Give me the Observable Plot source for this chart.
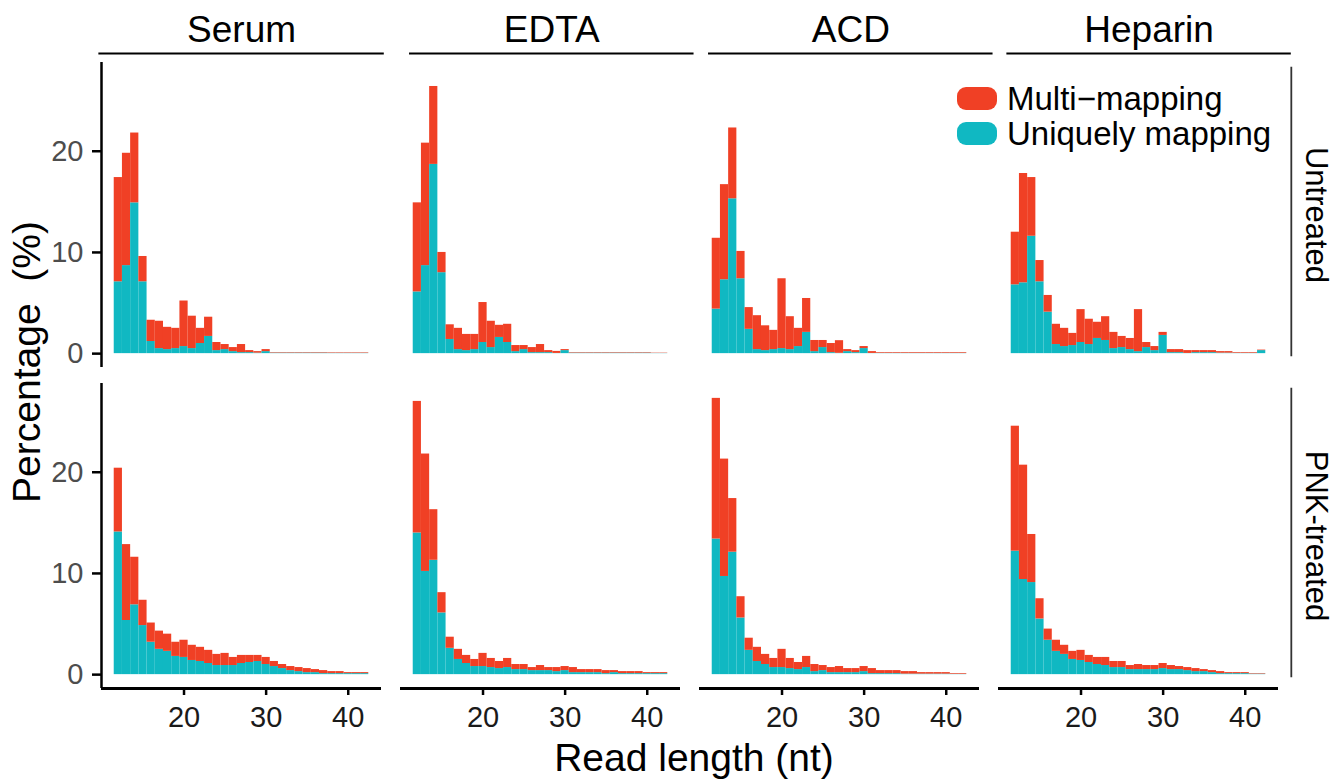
<!DOCTYPE html>
<html>
<head>
<meta charset="utf-8">
<script src="https://cdn.jsdelivr.net/npm/d3@7"></script>
<script src="https://cdn.jsdelivr.net/npm/@observablehq/plot@0.6"></script>
<style>
  html, body { margin: 0; padding: 0; background: #fff; }
  #wrap { position: relative; width: 1333px; height: 780px; font-family: "Liberation Sans", Arial, Helvetica, sans-serif; }
  #chart { position: absolute; left: 0; top: 0; }
  .legend { position: absolute; left: 957px; top: 81px; }
  .item { display: flex; align-items: center; height: 35px; font-size: 33px; color: #000; white-space: nowrap; }
  .sw { width: 40px; height: 23px; border-radius: 9px; margin-right: 10px; flex: none; }
  #ylab { position: absolute; left: 27px; top: 362px; transform: translate(-50%, -50%) rotate(-90deg); font-size: 39px; white-space: pre; color: #000; }
  #xlab { position: absolute; left: 694px; top: 758px; transform: translate(-50%, -50%); font-size: 39px; white-space: pre; color: #000; }
</style>
</head>
<body>
<div id="wrap">
  <div id="chart"></div>
  <div class="legend" id="legend"></div>
  <div id="ylab"></div>
  <div id="xlab"></div>
</div>
<script>
// ---- categories ----
const samples = ["Serum", "EDTA", "ACD", "Heparin"];
const treatments = ["Untreated", "PNK-treated"];
const lengths = [12, 13, 14, 15, 16, 17, 18, 19, 20, 21, 22, 23, 24, 25, 26, 27, 28, 29, 30, 31, 32, 33, 34, 35, 36, 37, 38, 39, 40, 41, 42];
const mappingTypes = ["Uniquely mapping", "Multi\u2212mapping"];
const legendOrder = ["Multi\u2212mapping", "Uniquely mapping"];
const mappingColors = ["#10B8C2", "#F04025"];
const xTicks = [20, 30, 40];
const yTicks = [0, 10, 20];
const xTitle = "Read length (nt)";
const yTitle = "Percentage  (%)";

// ---- series values (percent), read length 12..42 ----
// Untreated
const serumUntreatedUnique = [7.1, 8.7, 14.9, 7.1, 1.2, 0.5, 0.4, 0.5, 0.7, 0.5, 1.0, 1.7, 0.3, 0.4, 0.2, 0.1, 0.1, 0.05, 0.2, 0.05, 0.05, 0.05, 0.05, 0.05, 0.05, 0.05, 0.03, 0.03, 0.03, 0.03, 0.03];
const serumUntreatedMulti  = [10.3, 11.1, 6.9, 2.5, 2.1, 2.7, 2.2, 2.0, 4.5, 3.2, 1.5, 1.9, 0.8, 0.5, 0.4, 0.8, 0.2, 0.15, 0.2, 0.05, 0.05, 0.05, 0.05, 0.05, 0.05, 0.05, 0.05, 0.05, 0.05, 0.05, 0.05];
const edtaUntreatedUnique  = [6.1, 8.7, 18.7, 8.0, 1.4, 0.4, 0.3, 0.4, 1.1, 0.6, 1.6, 1.1, 0.2, 0.4, 0.1, 0.1, 0.1, 0.02, 0.3, 0.05, 0.05, 0.05, 0.05, 0.05, 0.05, 0.05, 0.05, 0.05, 0.05, 0.02, 0.02];
const edtaUntreatedMulti   = [8.8, 12.1, 7.7, 2.0, 1.45, 2.1, 1.6, 1.5, 3.95, 2.6, 1.2, 1.8, 0.6, 0.4, 0.5, 0.8, 0.2, 0.2, 0.1, 0.05, 0.05, 0.05, 0.05, 0.05, 0.05, 0.05, 0.05, 0.05, 0.05, 0.03, 0.03];
const acdUntreatedUnique   = [4.4, 7.3, 15.3, 7.4, 2.4, 0.4, 0.3, 0.4, 0.5, 0.4, 0.7, 2.1, 0.2, 0.6, 0.1, 0.03, 0.2, 0.1, 0.5, 0.02, 0.03, 0.03, 0.03, 0.03, 0.03, 0.03, 0.03, 0.03, 0.03, 0.03, 0.03];
const acdUntreatedMulti    = [7.0, 9.4, 7.0, 2.7, 2.15, 3.35, 2.45, 1.9, 6.9, 3.25, 1.8, 3.35, 1.1, 0.7, 0.9, 1.25, 0.2, 0.2, 0.2, 0.18, 0.07, 0.07, 0.07, 0.07, 0.07, 0.07, 0.07, 0.07, 0.07, 0.07, 0.07];
const heparinUntreatedUnique = [6.8, 7.0, 11.6, 7.1, 4.1, 0.9, 0.7, 0.8, 1.1, 0.9, 1.5, 1.3, 0.5, 0.6, 0.4, 0.2, 0.6, 0.3, 1.8, 0.1, 0.1, 0.02, 0.1, 0.1, 0.1, 0.05, 0.05, 0.03, 0.03, 0.03, 0.3];
const heparinUntreatedMulti  = [5.2, 10.8, 5.8, 2.1, 1.65, 2.0, 1.8, 1.2, 3.25, 2.5, 1.6, 2.35, 1.6, 1.1, 1.1, 4.15, 0.5, 0.4, 0.3, 0.3, 0.3, 0.28, 0.2, 0.2, 0.2, 0.15, 0.15, 0.07, 0.07, 0.07, 0.05];
// PNK-treated
const serumPnkUnique   = [14.1, 5.35, 6.9, 4.85, 3.2, 2.5, 2.3, 1.8, 1.7, 1.4, 1.3, 1.1, 0.9, 0.9, 0.9, 1.1, 1.2, 1.3, 1.0, 0.8, 0.6, 0.4, 0.3, 0.2, 0.2, 0.1, 0.1, 0.1, 0.1, 0.1, 0.1];
const serumPnkMulti    = [6.3, 7.5, 4.7, 2.5, 1.9, 1.8, 1.7, 1.4, 1.7, 1.5, 1.4, 1.3, 1.1, 1.2, 0.8, 0.8, 0.7, 0.6, 0.7, 0.5, 0.4, 0.4, 0.4, 0.4, 0.3, 0.3, 0.2, 0.2, 0.1, 0.1, 0.1];
const edtaPnkUnique    = [14.0, 10.2, 11.3, 6.1, 2.6, 1.5, 1.1, 0.8, 0.8, 0.7, 0.6, 0.7, 0.5, 0.5, 0.4, 0.4, 0.4, 0.3, 0.4, 0.2, 0.2, 0.2, 0.2, 0.1, 0.2, 0.1, 0.1, 0.1, 0.1, 0.1, 0.1];
const edtaPnkMulti     = [13.0, 11.6, 5.0, 2.0, 1.1, 1.0, 0.8, 0.7, 1.3, 0.9, 0.7, 0.9, 0.5, 0.5, 0.3, 0.5, 0.3, 0.4, 0.4, 0.5, 0.3, 0.3, 0.3, 0.3, 0.2, 0.2, 0.2, 0.2, 0.1, 0.1, 0.1];
const acdPnkUnique     = [13.4, 9.7, 12.1, 5.6, 2.4, 1.3, 1.0, 0.7, 0.7, 0.6, 0.5, 0.7, 0.3, 0.4, 0.2, 0.2, 0.2, 0.2, 0.3, 0.1, 0.1, 0.1, 0.1, 0.05, 0.05, 0.05, 0.05, 0.05, 0.05, 0.03, 0.03];
const acdPnkMulti      = [13.9, 11.6, 5.3, 2.1, 1.2, 1.4, 1.0, 0.9, 1.8, 1.0, 0.7, 1.1, 0.7, 0.5, 0.5, 0.6, 0.4, 0.4, 0.5, 0.5, 0.3, 0.3, 0.3, 0.25, 0.25, 0.15, 0.15, 0.15, 0.15, 0.07, 0.07];
const heparinPnkUnique = [12.2, 9.4, 9.1, 5.5, 3.4, 2.3, 2.0, 1.5, 1.4, 1.2, 1.0, 0.9, 0.7, 0.7, 0.5, 0.5, 0.5, 0.5, 0.6, 0.5, 0.5, 0.4, 0.3, 0.3, 0.2, 0.1, 0.1, 0.1, 0.1, 0.05, 0.05];
const heparinPnkMulti  = [12.35, 11.3, 4.75, 2.0, 1.1, 1.1, 0.9, 0.8, 1.0, 0.7, 0.7, 0.8, 0.6, 0.6, 0.4, 0.5, 0.4, 0.4, 0.5, 0.4, 0.3, 0.3, 0.3, 0.2, 0.2, 0.2, 0.1, 0.1, 0.1, 0.05, 0.05];

const panels = [
  ["Serum", "Untreated", serumUntreatedUnique, serumUntreatedMulti],
  ["EDTA", "Untreated", edtaUntreatedUnique, edtaUntreatedMulti],
  ["ACD", "Untreated", acdUntreatedUnique, acdUntreatedMulti],
  ["Heparin", "Untreated", heparinUntreatedUnique, heparinUntreatedMulti],
  ["Serum", "PNK-treated", serumPnkUnique, serumPnkMulti],
  ["EDTA", "PNK-treated", edtaPnkUnique, edtaPnkMulti],
  ["ACD", "PNK-treated", acdPnkUnique, acdPnkMulti],
  ["Heparin", "PNK-treated", heparinPnkUnique, heparinPnkMulti]
];

// Stacked table: uniquely mapping at bottom, multi-mapping on top
const table = [];
for (const [sample, treat, uniq, multi] of panels) {
  lengths.forEach((len, i) => {
    table.push({sample, treat, len, type: mappingTypes[0], y1: 0, y2: uniq[i]});
    table.push({sample, treat, len, type: mappingTypes[1], y1: uniq[i], y2: uniq[i] + multi[i]});
  });
}

// ---- layout ----
const xDomain = [9.95, 44.05];
const yDomain = [-1.37, 28.77];
const stripY = 29.66;
const stripSpan = {Serum: [9.63, 44.39], EDTA: [11.05, 45.7], ACD: [11.05, 45.7], Heparin: [10.97, 45.61]};
const rowStripX = 45.61;
const rowTextX = 48.55;

const font = '"Liberation Sans", Arial, Helvetica, sans-serif';

const chart = Plot.plot({
  width: 1333,
  height: 780,
  marginLeft: 100,
  marginRight: 55,
  marginTop: 62,
  marginBottom: 92,
  style: {fontFamily: font, background: "white", color: "black"},
  x: {domain: xDomain},
  y: {domain: yDomain},
  fx: {domain: samples, paddingInner: 0.064, paddingOuter: 0, axis: null},
  fy: {domain: treatments, paddingInner: 0.051, paddingOuter: 0, axis: null},
  color: {domain: mappingTypes, range: mappingColors},
  marks: [
    Plot.rect(table, {
      x1: d => d.len - 0.5, x2: d => d.len + 0.5,
      y1: "y1", y2: "y2",
      fill: "type", fx: "sample", fy: "treat"
    }),
    // y axis (left column only)
    Plot.axisY({ticks: yTicks, tickSize: 9, tickPadding: 9, fontSize: 29, fill: "#4d4d4d", stroke: "black", strokeWidth: 2.5, label: null}),
    Plot.ruleX(treatments, {x: xDomain[0], fx: () => "Serum", fy: d => d, strokeWidth: 2.5, stroke: "black"}),
    // x axis (bottom row only)
    Plot.axisX({ticks: xTicks, tickSize: 7, tickPadding: 11, fontSize: 29, fill: "#1a1a1a", stroke: "black", strokeWidth: 2.5, label: null}),
    Plot.ruleY(samples, {y: yDomain[0], fx: d => d, fy: () => "PNK-treated", strokeWidth: 3, stroke: "black"}),
    // column strips
    Plot.ruleY(samples, {y: stripY, x1: d => stripSpan[d][0], x2: d => stripSpan[d][1], fx: d => d, fy: () => "Untreated", strokeWidth: 2, stroke: "black"}),
    Plot.text(samples, {text: d => d, x: d => (stripSpan[d][0] + stripSpan[d][1]) / 2, y: stripY, dy: -11, lineAnchor: "bottom", fontSize: 37, fill: "black", fx: d => d, fy: () => "Untreated"}),
    // row strips
    Plot.ruleX(treatments, {x: rowStripX, y1: 28.3, y2: -0.3, fx: () => "Heparin", fy: d => d, strokeWidth: 1.8, stroke: "#333"}),
    Plot.text(treatments, {text: d => d, x: rowTextX, y: 13.7, rotate: 90, fontSize: 31, fill: "black", fx: () => "Heparin", fy: d => d})
  ]
});
document.getElementById("chart").appendChild(chart);

// legend
const legend = document.getElementById("legend");
for (const t of legendOrder) {
  const item = document.createElement("div");
  item.className = "item";
  const sw = document.createElement("div");
  sw.className = "sw";
  sw.style.background = mappingColors[mappingTypes.indexOf(t)];
  const lab = document.createElement("span");
  lab.textContent = t;
  item.appendChild(sw);
  item.appendChild(lab);
  legend.appendChild(item);
}
document.getElementById("ylab").textContent = yTitle;
document.getElementById("xlab").textContent = xTitle;
</script>
</body>
</html>
